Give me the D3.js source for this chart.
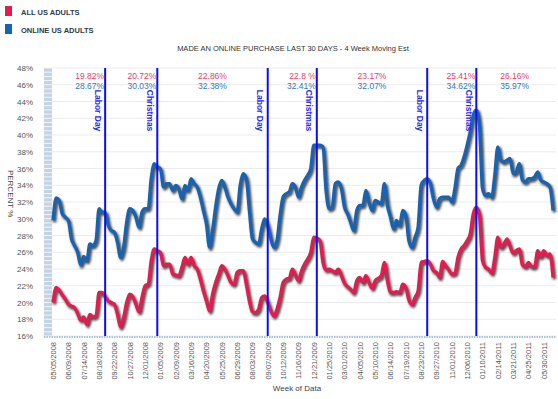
<!DOCTYPE html>
<html>
<head>
<meta charset="utf-8">
<script src="https://cdn.jsdelivr.net/npm/d3@7"></script>
<style>
body { margin: 0; background: #fff; }
text { font-family: "Liberation Sans", Arial, sans-serif; }
</style>
</head>
<body>
<div id="chart"></div>
<script>
// Weekly data, first week 05/05/2008
const firstWeek = "05/05/2008";

const allAdults = [
  20.0, 21.8, 21.5, 20.9, 20.4, 19.8, 19.6, 19.4, 18.7, 17.9,
  18.3, 17.4, 18.6, 18.3, 18.4, 21.2, 21.2, 20.7, 20.2, 20.0,
  19.8, 18.6, 17.1, 18.2, 20.0, 21.0, 20.7, 19.8, 18.9, 20.6,
  22.0, 22.2, 25.0, 26.4, 26.2, 26.0, 24.4, 24.6, 24.6, 23.4,
  23.3, 23.2, 24.2, 25.4, 24.6, 25.4, 24.4, 24.0, 22.8, 21.4,
  20.2, 19.0, 21.0, 22.4, 23.4, 24.4, 24.0, 23.2, 22.4, 22.2,
  23.6, 23.8, 23.8, 22.2, 20.2, 18.9, 18.8, 19.2, 20.6, 20.8,
  20.0, 19.0, 18.4, 19.2, 20.6, 22.4, 22.8, 22.9, 24.0, 23.3,
  22.6, 23.8, 24.6, 25.2, 26.0, 27.8, 27.7, 27.4, 24.8, 23.9,
  24.0, 23.8, 23.6, 24.0, 23.2, 22.3, 21.9, 21.6, 21.2, 22.6,
  23.0, 22.4, 23.2, 22.4, 21.7, 22.6, 22.9, 23.2, 24.8, 22.6,
  21.2, 21.2, 21.3, 21.2, 22.2, 21.8, 20.3, 19.8, 20.6, 21.4,
  24.8, 24.9, 25.0, 24.6, 23.8, 23.6, 23.0, 24.9, 24.4, 23.9,
  23.4, 23.5, 25.4, 26.4, 26.8, 27.4, 28.2, 30.6, 31.4, 30.4,
  25.0, 24.2, 24.0, 23.5, 25.4, 27.8, 26.6, 27.0, 27.6, 26.7,
  25.9, 26.2, 26.4, 24.5, 24.3, 24.8, 24.3, 24.3, 26.2, 25.5,
  26.2, 25.6, 25.8, 23.0
];

const onlineAdults = [
  29.8, 32.5, 32.2, 30.6, 30.2, 29.8, 27.6, 26.8, 26.0, 24.5,
  25.5, 25.0, 27.0, 26.8, 27.4, 31.2, 30.8, 30.8, 29.2, 28.6,
  28.4, 27.2, 25.4, 26.6, 29.6, 31.2, 31.0, 30.2, 29.0, 30.8,
  31.2, 31.2, 34.8, 36.6, 36.2, 36.0, 33.8, 34.2, 34.2, 33.4,
  34.0, 33.6, 32.4, 34.0, 33.4, 34.8, 34.2, 33.8, 32.6, 31.0,
  29.4, 26.6, 28.6, 31.4, 33.6, 34.6, 33.8, 32.6, 31.8, 31.2,
  30.8, 34.0, 35.4, 34.8, 31.0, 27.6, 27.2, 27.0, 28.8, 30.0,
  29.2, 27.6, 26.6, 27.4, 30.4, 32.6, 33.0, 33.2, 34.2, 33.8,
  32.6, 33.8, 34.6, 35.2, 36.0, 38.8, 38.8, 38.8, 38.6, 33.4,
  31.2, 31.4, 34.2, 34.4, 33.6, 31.4, 30.6, 29.6, 28.6, 31.0,
  31.6, 31.6, 33.4, 32.0, 31.0, 32.2, 32.0, 31.8, 34.2, 31.6,
  30.2, 28.8, 29.8, 29.2, 31.0, 30.4, 27.4, 26.6, 27.8, 29.0,
  34.0, 34.6, 34.8, 34.2, 32.4, 31.4, 32.4, 32.6, 32.6, 32.6,
  32.0, 33.6, 36.0, 36.4, 37.4, 38.8, 40.4, 42.4, 43.0, 41.2,
  33.6, 32.8, 33.0, 32.6, 35.2, 38.6, 37.0, 36.8, 37.0, 37.2,
  35.4, 35.6, 36.6, 34.6, 34.4, 34.8, 34.8, 35.0, 35.6, 34.6,
  34.4, 34.2, 33.8, 31.0
];

const tickLabels = [
  "05/05/2008", "06/09/2008", "07/14/2008", "08/18/2008", "09/22/2008",
  "10/27/2008", "12/01/2008", "01/05/2009", "02/09/2009", "03/16/2009",
  "04/20/2009", "05/25/2009", "06/29/2009", "08/03/2009", "09/07/2009",
  "10/12/2009", "11/16/2009", "12/21/2009", "01/25/2010", "03/01/2010",
  "04/05/2010", "05/10/2010", "06/14/2010", "07/19/2010", "08/23/2010",
  "09/27/2010", "11/01/2010", "12/06/2010", "01/10/2011", "02/14/2011",
  "03/21/2011", "04/25/2011", "05/30/2011"
];

const yTicks = [16, 18, 20, 22, 24, 26, 28, 30, 32, 34, 36, 38, 40, 42, 44, 46, 48];

const eventNames = ["Labor Day", "Christmas", "Labor Day", "Christmas", "Labor Day", "Christmas"];
const eventWeeks = ["09/01/2008", "12/29/2008", "09/07/2009", "12/28/2009", "09/06/2010", "12/27/2010"];

// period averages between the event lines
const periodAll = ["19.82%", "20.72%", "22.86%", "22.8 %", "23.17%", "25.41%", "26.16%"];
const periodOnline = ["28.67%", "30.03%", "32.38%", "32.41%", "32.07%", "34.62%", "35.97%"];

const seriesNames = ["ALL US ADULTS", "ONLINE US ADULTS"];
const seriesColors = ["#e8194f", "#1763b3"];

const W = 558, H = 399;
const parse = d3.utcParse("%m/%d/%Y");
const t0 = parse(firstWeek);
const weeks = allAdults.map((d, i) => d3.utcDay.offset(t0, 7 * i));

const svg = d3.select("#chart").append("svg")
  .attr("width", W).attr("height", H);

const defs = svg.append("defs");
defs.append("filter").attr("id", "blur")
  .attr("x", "-5%").attr("y", "-5%").attr("width", "110%").attr("height", "110%")
  .append("feGaussianBlur").attr("stdDeviation", 0.8);

const x = d3.scaleUtc()
  .domain([t0, weeks[weeks.length - 1]])
  .range([53, 553]);

const y = d3.scaleLinear()
  .domain([16, 48])
  .range([336, 68]);

// grid lines
svg.append("g")
  .selectAll("line")
  .data(yTicks)
  .join("line")
    .attr("x1", 43).attr("x2", 556)
    .attr("y1", d => y(d)).attr("y2", d => y(d))
    .attr("stroke", "#ececec");

// y axis
const yAxis = svg.append("g")
  .attr("transform", "translate(36,0)")
  .call(d3.axisLeft(y).tickValues(yTicks).tickFormat(d => d + "%").tickSize(0));
yAxis.select(".domain").remove();
yAxis.selectAll("text").attr("font-size", 8).attr("fill", "#555")
  .attr("font-family", "Liberation Sans, Arial, sans-serif");

// left wall strip
svg.append("rect")
  .attr("x", 44).attr("y", y(48)).attr("width", 8).attr("height", y(16) - y(48))
  .attr("fill", "#c3d3e3");
svg.append("g")
  .selectAll("line")
  .data(d3.range(16, 48.01, 0.5))
  .join("line")
    .attr("x1", 44).attr("x2", 52)
    .attr("y1", d => y(d)).attr("y2", d => y(d))
    .attr("stroke", "#fff").attr("stroke-width", 0.8);

// bottom dotted axis
svg.append("line")
  .attr("x1", 44).attr("x2", 556)
  .attr("y1", y(16) + 1).attr("y2", y(16) + 1)
  .attr("stroke", "#a9c3de").attr("stroke-width", 2)
  .attr("stroke-dasharray", "1.5,1");

// x axis labels
const xAxis = svg.append("g")
  .attr("transform", `translate(0,${y(16) + 6})`)
  .call(d3.axisBottom(x).tickValues(tickLabels.map(parse)).tickFormat(d3.utcFormat("%m/%d/%Y")).tickSize(0));
xAxis.select(".domain").remove();
xAxis.selectAll("text")
  .attr("font-size", 7.5).attr("fill", "#555")
  .attr("font-family", "Liberation Sans, Arial, sans-serif")
  .attr("text-anchor", "end")
  .attr("transform", "rotate(-90)")
  .attr("x", 0).attr("y", 0).attr("dx", 0).attr("dy", "0.32em");

// lines
const line = d3.line()
  .x((d, i) => x(weeks[i]))
  .y(d => y(d))
  .curve(d3.curveMonotoneX);

[allAdults, onlineAdults].forEach((s, k) => {
  svg.append("path")
    .datum(s)
    .attr("d", line)
    .attr("transform", "translate(1.5,2)")
    .attr("fill", "none")
    .attr("stroke", "#333")
    .attr("stroke-width", 3.8)
    .attr("stroke-opacity", 0.85)
    .attr("filter", "url(#blur)");
  svg.append("path")
    .datum(s)
    .attr("d", line)
    .attr("fill", "none")
    .attr("stroke", seriesColors[k])
    .attr("stroke-width", 3.2)
    .attr("stroke-linejoin", "round");
});

// event lines
const ev = svg.append("g");
eventWeeks.forEach((w, i) => {
  const ex = x(parse(w));
  ev.append("line")
    .attr("x1", ex).attr("x2", ex)
    .attr("y1", y(48)).attr("y2", y(16))
    .attr("stroke", "#0c0cf5").attr("stroke-width", 2);
  ev.append("text")
    .attr("transform", `translate(${ex - 10.5},${y(45.4)}) rotate(90)`)
    .attr("font-size", 8.5).attr("font-weight", "bold")
    .attr("fill", "#2a2af0")
    .text(eventNames[i]);
});

// period averages
const bounds = [t0, ...eventWeeks.map(parse), weeks[weeks.length - 1]];
periodAll.forEach((p, i) => {
  const a = x(bounds[i]), b = x(bounds[i + 1]);
  const wide = (b - a) > 70;
  const tx = wide ? (a + b) / 2 : b - 1;
  const anchor = wide ? "middle" : "end";
  svg.append("text")
    .attr("x", tx).attr("y", 79)
    .attr("text-anchor", anchor)
    .attr("font-size", 8.5)
    .attr("fill", "#e63d67")
    .text(p);
  svg.append("text")
    .attr("x", tx).attr("y", 89)
    .attr("text-anchor", anchor)
    .attr("font-size", 8.5)
    .attr("fill", "#3477bd")
    .text(periodOnline[i]);
});

// title
svg.append("text")
  .attr("x", 293).attr("y", 51)
  .attr("text-anchor", "middle")
  .attr("font-size", 7.5).attr("fill", "#333")
  .text("MADE AN ONLINE PURCHASE LAST 30 DAYS - 4 Week Moving Est");

// y axis title
svg.append("text")
  .attr("transform", `translate(8,${y(33)}) rotate(90)`)
  .attr("text-anchor", "middle")
  .attr("font-size", 8).attr("fill", "#444")
  .text("PERCENT %");

// x axis title
svg.append("text")
  .attr("x", 297).attr("y", 391)
  .attr("text-anchor", "middle")
  .attr("font-size", 8).attr("fill", "#444")
  .text("Week of Data");

// legend
const lg = svg.append("g");
seriesNames.forEach((n, i) => {
  lg.append("rect")
    .attr("x", 5).attr("y", 6 + i * 18).attr("width", 7).attr("height", 10)
    .attr("fill", seriesColors[i]);
  lg.append("text")
    .attr("x", 21).attr("y", 14.5 + i * 18)
    .attr("font-size", 7.5).attr("font-weight", "bold")
    .attr("fill", "#2e3b47")
    .text(n);
});
</script>
</body>
</html>
